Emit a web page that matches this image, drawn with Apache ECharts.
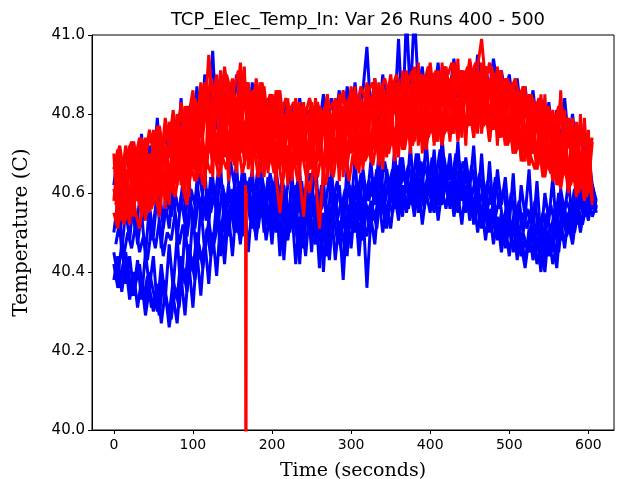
<!DOCTYPE html>
<html>
<head>
<meta charset="utf-8">
<script src="https://cdn.jsdelivr.net/npm/echarts@6/dist/echarts.min.js"></script>
<style>html,body{margin:0;padding:0;background:#fff}#c{width:617px;height:479px}</style>
</head>
<body>
<div id="c"></div>
<script>
const titleText = 'TCP_Elec_Temp_In: Var 26 Runs 400 - 500';
const xTicks = [0, 100, 200, 300, 400, 500, 600];
const yTicks = [40.0, 40.2, 40.4, 40.6, 40.8, 41.0];
const times = [0,5,10,15,20,25,30,35,40,45,50,55,60,65,70,75,80,85,90,95,100,105,110,115,120,125,130,135,140,145,150,155,160,165,170,175,180,185,190,195,200,205,210,215,220,225,230,235,240,245,250,255,260,265,270,275,280,285,290,295,300,305,310,315,320,325,330,335,340,345,350,355,360,365,370,375,380,385,390,395,400,405,410,415,420,425,430,435,440,445,450,455,460,465,470,475,480,485,490,495,500,505,510,515,520,525,530,535,540,545,550,555,560,565,570,575,580,585,590,595,600,605,610];
const timesB = [2.5,7.5,12.5,17.5,22.5,27.5,32.5,37.5,42.5,47.5,52.5,57.5,62.5,67.5,72.5,77.5,82.5,87.5,92.5,97.5,102.5,107.5,112.5,117.5,122.5,127.5,132.5,137.5,142.5,147.5,152.5,157.5,162.5,167.5,172.5,177.5,182.5,187.5,192.5,197.5,202.5,207.5,212.5,217.5,222.5,227.5,232.5,237.5,242.5,247.5,252.5,257.5,262.5,267.5,272.5,277.5,282.5,287.5,292.5,297.5,302.5,307.5,312.5,317.5,322.5,327.5,332.5,337.5,342.5,347.5,352.5,357.5,362.5,367.5,372.5,377.5,382.5,387.5,392.5,397.5,402.5,407.5,412.5,417.5,422.5,427.5,432.5,437.5,442.5,447.5,452.5,457.5,462.5,467.5,472.5,477.5,482.5,487.5,492.5,497.5,502.5,507.5,512.5,517.5,522.5,527.5,532.5,537.5,542.5,547.5,552.5,557.5,562.5,567.5,572.5,577.5,582.5,587.5,592.5,597.5,602.5,607.5];

const blue1 = [40.62,40.70,40.58,40.71,40.64, 40.73,40.60,40.75,40.63,40.72, 40.66,40.79,40.64,40.77,40.69, 40.80,40.67,40.84,40.70,40.82, 40.71,40.87,40.74,40.90,40.80, 40.96,40.76,40.91,40.79,40.88, 40.77,40.90,40.80,40.87,40.75, 40.88,40.78,40.86,40.74,40.84, 40.76,40.85,40.73,40.83,40.77, 40.82,40.74,40.84,40.76,40.81, 40.73,40.83,40.77,40.85,40.75, 40.84,40.78,40.86,40.76,40.87, 40.79,40.88,40.77,40.86,40.97, 40.80,40.89,40.78,40.90,40.82, 40.88,40.80,40.99,40.78,41.05, 40.84,41.06,40.86,40.92,40.83, 40.91,40.85,40.93,40.82,40.90, 40.86,40.94,40.84,40.91,40.87, 40.93,40.85,40.95,40.88,40.92, 40.86,40.94,40.87,40.91,40.85, 40.90,40.82,40.89,40.80,40.87, 40.79,40.86,40.77,40.84,40.75, 40.83,40.74,40.81,40.72,40.84, 40.73,40.80,40.70,40.78,40.69, 40.70,40.62,40.58];
const blue2 = [40.50,40.58,40.45,40.56,40.48, 40.59,40.47,40.55,40.44,40.57, 40.49,40.60,40.46,40.58,40.51, 40.62,40.48,40.59,40.52,40.64, 40.50,40.63,40.55,40.66,40.52, 40.64,40.54,40.67,40.50,40.62, 40.56,40.68,40.52,40.65,40.57, 40.66,40.53,40.69,40.55,40.64, 40.51,40.67,40.56,40.62,40.49, 40.65,40.54,40.66,40.50,40.63, 40.57,40.68,40.52,40.64,40.48, 40.66,40.55,40.62,40.51,40.67, 40.56,40.69,40.53,40.66,40.58, 40.68,40.57,40.70,40.55,40.66, 40.59,40.71,40.56,40.69,40.60, 40.72,40.58,40.70,40.61,40.73, 40.60,40.71,40.57,40.74,40.62, 40.70,40.59,40.73,40.58,40.69, 40.61,40.72,40.57,40.70,40.55, 40.68,40.54,40.66,40.57,40.64, 40.52,40.65,40.49,40.62,40.54, 40.66,40.50,40.63,40.48,40.60, 40.53,40.64,40.49,40.61,40.55, 40.63,40.52,40.62,40.56,40.64, 40.57,40.62,40.56];
const blue3 = [40.38,40.44,40.35,40.42,40.33, 40.40,40.31,40.38,40.29,40.36, 40.30,40.37,40.27,40.35,40.26, 40.34,40.27,40.39,40.29,40.42, 40.31,40.45,40.34,40.48,40.37, 40.50,40.39,40.53,40.42,40.55, 40.44,40.57,40.47,40.59,40.45, 40.58,40.48,40.61,40.50,40.57, 40.47,40.60,40.44,40.58,40.49, 40.56,40.42,40.54,40.46,40.59, 40.45,40.57,40.41,40.55,40.47, 40.56,40.43,40.53,40.38,40.55, 40.46,40.58,40.44,40.56,40.36, 40.54,40.47,40.59,40.50,40.57, 40.51,40.60,40.53,40.62,40.55, 40.61,40.54,40.63,40.52,40.60, 40.55,40.64,40.53,40.61,40.56, 40.63,40.54,40.60,40.52,40.62, 40.53,40.59,40.50,40.57,40.48, 40.56,40.47,40.54,40.45,40.52, 40.44,40.53,40.43,40.50,40.42, 40.51,40.43,40.49,40.40,40.52, 40.44,40.50,40.41,40.53,40.46, 40.55,40.48,40.57,40.50,40.58, 40.53,40.60,40.55];
const blue4 = [40.45,40.39,40.47,40.37,40.44, 40.35,40.43,40.33,40.45,40.36, 40.44,40.31,40.42,40.33,40.47, 40.36,40.49,40.34,40.52,40.40, 40.55,40.42,40.57,40.45,40.53, 40.46,40.58,40.44,40.60,40.49, 40.61,40.50,40.58,40.52,40.63, 40.51,40.62,40.54,40.59,40.52, 40.63,40.53,40.60,40.43,40.57, 40.51,40.62,40.42,40.58,40.52, 40.61,40.49,40.58,40.40,40.56, 40.50,40.60,40.47,40.58,40.44, 40.59,40.50,40.61,40.48,40.57, 40.52,40.62,40.55,40.60,40.53, 40.63,40.56,40.61,40.54,40.64, 40.57,40.65,40.55,40.62,40.58, 40.66,40.57,40.63,40.59,40.65, 40.56,40.64,40.58,40.61,40.55, 40.62,40.52,40.60,40.55,40.58, 40.50,40.57,40.48,40.55,40.46, 40.54,40.45,40.52,40.47,40.41, 40.49,40.44,40.53,40.46,40.40, 40.51,40.45,40.54,40.48,40.56, 40.50,40.58,40.52,40.59,40.54, 40.61,40.56,40.58];
const blue5 = [40.41,40.36,40.43,40.39,40.34, 40.37,40.42,40.33,40.39,40.31, 40.35,40.29,40.38,40.32,40.28, 40.36,40.31,40.41,40.35,40.44, 40.38,40.47,40.41,40.51,40.44, 40.48,40.54,40.46,40.52,40.57, 40.50,40.55,40.49,40.60,40.53, 40.56,40.51,40.59,40.48,40.55, 40.52,40.57,40.46,40.54,40.50, 40.58,40.47,40.53,40.44,40.56, 40.49,40.54,40.46,40.52,40.43, 40.55,40.48,40.52,40.45,40.57, 40.50,40.55,40.48,40.59,40.52, 40.56,40.51,40.61,40.54,40.58, 40.55,40.62,40.57,40.60,40.56, 40.63,40.58,40.61,40.56,40.64, 40.58,40.62,40.57,40.65,40.59, 40.61,40.56,40.63,40.58,40.60, 40.55,40.60,40.53,40.58,40.51, 40.55,40.50,40.53,40.47,40.55, 40.48,40.52,40.45,40.50,40.46, 40.52,40.45,40.48,40.43,40.50, 40.47,40.52,40.45,40.55,40.49, 40.53,40.50,40.56,40.52,40.57, 40.55,40.59];
const blue6 = [40.47,40.53,40.44,40.50,40.46, 40.52,40.45,40.49,40.43,40.51, 40.46,40.53,40.44,40.50,40.48, 40.55,40.47,40.52,40.49,40.57, 40.51,40.59,40.53,40.61,40.55, 40.60,40.53,40.62,40.56,40.59, 40.54,40.63,40.57,40.61,40.55, 40.62,40.56,40.64,40.58,40.60, 40.55,40.62,40.57,40.60,40.52, 40.60,40.55,40.63,40.53,40.59, 40.54,40.61,40.56,40.59,40.51, 40.60,40.53,40.58,40.55,40.62, 40.57,40.63,40.55,40.61,40.58, 40.64,40.59,40.66,40.57,40.63, 40.60,40.67,40.62,40.65,40.59, 40.66,40.61,40.68,40.60,40.65, 40.62,40.67,40.60,40.69,40.63, 40.66,40.60,40.68,40.62,40.65, 40.59,40.64,40.57,40.62,40.56, 40.61,40.54,40.59,40.52,40.58, 40.50,40.57,40.49,40.55,40.51, 40.56,40.48,40.53,40.47,40.55, 40.50,40.56,40.48,40.58,40.52, 40.57,40.54,40.60,40.55,40.59, 40.56,40.60];
const blue7 = [40.42,40.36,40.40,40.45,40.38, 40.34,40.41,40.37,40.32,40.40, 40.35,40.30,40.39,40.34,40.29, 40.38,40.33,40.44,40.37,40.47, 40.40,40.50,40.43,40.47,40.52, 40.45,40.55,40.49,40.57,40.51, 40.58,40.53,40.48,40.56,40.60, 40.54,40.49,40.57,40.53,40.61, 40.56,40.50,40.59,40.54,40.48, 40.57,40.51,40.45,40.55,40.60, 40.52,40.47,40.56,40.50,40.44, 40.53,40.58,40.49,40.42,40.54, 40.51,40.57,40.47,40.53,40.49, 40.58,40.53,40.60,40.56,40.51, 40.58,40.62,40.55,40.59,40.57, 40.60,40.56,40.64,40.58,40.62, 40.59,40.55,40.62,40.57,40.63, 40.58,40.61,40.55,40.63,40.57, 40.60,40.54,40.58,40.51,40.56, 40.52,40.58,40.49,40.53,40.47, 40.51,40.46,40.49,40.44,40.48, 40.45,40.50,40.42,40.47,40.43, 40.49,40.42,40.47,40.51,40.48, 40.52,40.47,40.55,40.51,40.56, 40.58,40.54,40.57];
const blue8 = [40.55,40.49,40.60,40.52,40.57, 40.50,40.58,40.53,40.61,40.48, 40.56,40.62,40.51,40.59,40.54, 40.60,40.55,40.63,40.50,40.61, 40.57,40.65,40.59,40.53,40.64, 40.58,40.66,40.61,40.56,40.68, 40.62,40.55,40.66,40.60,40.64, 40.58,40.67,40.61,40.56,40.65, 40.60,40.54,40.64,40.58,40.66, 40.57,40.63,40.52,40.61,40.65, 40.59,40.53,40.62,40.57,40.64, 40.58,40.63,40.56,40.61,40.53, 40.62,40.58,40.65,40.60,40.63, 40.59,40.66,40.61,40.68,40.62, 40.66,40.60,40.69,40.63,40.67, 40.62,40.70,40.65,40.68,40.63, 40.69,40.64,40.71,40.62,40.67, 40.63,40.70,40.65,40.68,40.61, 40.67,40.60,40.65,40.58,40.63, 40.57,40.64,40.56,40.61,40.54, 40.60,40.53,40.58,40.50,40.56, 40.52,40.58,40.49,40.55,40.51, 40.57,40.52,40.60,40.54,40.58, 40.55,40.61,40.57,40.62,40.58, 40.61,40.57];

const red1 = [40.66,40.71,40.64,40.72,40.67, 40.73,40.66,40.74,40.69,40.76, 40.70,40.77,40.68,40.79,40.72, 40.81,40.73,40.83,40.75,40.80, 40.86,40.76,40.88,40.79,40.95, 40.82,40.90,40.78,40.92,40.84, 40.89,40.80,40.93,40.83,40.88, 40.79,40.89,40.82,40.87,40.77, 40.85,40.78,40.86,40.76,40.83, 40.77,40.84,40.75,40.82,40.78, 40.83,40.76,40.82,40.79,40.85, 40.77,40.84,40.79,40.86,40.78, 40.87,40.80,40.85,40.79,40.88, 40.81,40.89,40.80,40.87,40.83, 40.90,40.82,40.88,40.84,40.91, 40.85,40.92,40.83,40.90,40.86, 40.93,40.84,40.91,40.87,40.92, 40.85,40.93,40.88,40.91,40.86, 40.94,40.87,40.92,40.99,40.88, 40.93,40.85,40.91,40.86,40.89, 40.84,40.88,40.80,40.86,40.79, 40.85,40.77,40.83,40.76,40.82, 40.74,40.81,40.73,40.84,40.75, 40.79,40.71,40.78,40.72,40.76, 40.70,40.74];
const red2 = [40.55,40.51,40.58,40.53,40.60, 40.56,40.62,40.54,40.60,40.57, 40.63,40.57,40.65,40.59,40.66, 40.61,40.68,40.63,40.70,40.62, 40.69,40.64,40.72,40.66,40.74, 40.68,40.75,40.65,40.77,40.70, 40.74,40.66,40.76,40.69,40.73, 40.67,40.75,40.65,40.73,40.66, 40.71,40.64,40.55,40.66,40.72, 40.65,40.73,40.64,40.54,40.68, 40.72,40.64,40.51,40.66,40.73, 40.65,40.74,40.66,40.72,40.67, 40.75,40.68,40.76,40.67,40.74, 40.69,40.77,40.68,40.78,40.70, 40.79,40.70,40.77,40.71,40.80, 40.72,40.81,40.73,40.79,40.71, 40.80,40.73,40.82,40.72,40.79, 40.74,40.83,40.73,40.81,40.75, 40.82,40.74,40.84,40.76,40.81, 40.73,40.82,40.75,40.80,40.72, 40.78,40.70,40.77,40.69,40.75, 40.67,40.74,40.66,40.72,40.64, 40.71,40.63,40.69,40.61,40.68, 40.60,40.67,40.59,40.66,40.58, 40.65,40.57];
const red3 = [40.70,40.52,40.68,40.55,40.72, 40.54,40.71,40.57,40.74,40.55, 40.76,40.58,40.74,40.56,40.78, 40.60,40.80,40.62,40.82,40.59, 40.84,40.63,40.87,40.61,40.85, 40.64,40.89,40.66,40.86,40.63, 40.88,40.65,40.90,40.67,40.86, 40.64,40.87,40.66,40.84,40.65, 40.85,40.63,40.82,40.64,40.84, 40.63,40.81,40.65,40.83,40.64, 40.82,40.64,40.80,40.63,40.83, 40.65,40.84,40.63,40.82,40.66, 40.85,40.67,40.83,40.66,40.86, 40.68,40.87,40.67,40.85,40.69, 40.89,40.68,40.87,40.71,40.90, 40.70,40.91,40.72,40.89,40.71, 40.92,40.72,40.90,40.73,40.91, 40.73,40.92,40.74,40.90,40.72, 40.93,40.74,40.91,40.75,40.92, 40.73,40.90,40.72,40.91,40.74, 40.88,40.70,40.86,40.68,40.87, 40.67,40.84,40.66,40.85,40.65, 40.82,40.63,40.80,40.64,40.81, 40.61,40.79,40.60,40.80,40.59, 40.76,40.58];
const red4 = [40.58,40.69,40.53,40.66,40.57, 40.72,40.58,40.68,40.53,40.70, 40.59,40.75,40.61,40.72,40.57, 40.78,40.64,40.76,40.60,40.81, 40.66,40.83,40.64,40.88,40.70, 40.86,40.67,40.91,40.69,40.88, 40.68,40.84,40.70,40.92,40.66, 40.85,40.70,40.88,40.64,40.82, 40.68,40.86,40.66,40.80,40.62, 40.79,40.67,40.83,40.69,40.80, 40.66,40.84,40.70,40.81,40.64, 40.80,40.68,40.85,40.64,40.82, 40.70,40.87,40.65,40.83,40.69, 40.84,40.71,40.88,40.66,40.86, 40.72,40.88,40.69,40.91,40.74, 40.86,40.73,40.93,40.70,40.88, 40.75,40.90,40.73,40.93,40.76, 40.89,40.75,40.94,40.74,40.90, 40.77,40.91,40.75,40.93,40.78, 40.89,40.76,40.92,40.74,40.87, 40.73,40.87,40.71,40.84,40.68, 40.83,40.70,40.81,40.67,40.85, 40.66,40.80,40.62,40.86,40.65, 40.78,40.63,40.77,40.61,40.79, 40.62,40.73];
const red5 = [40.63,40.59,40.68,40.62,40.70, 40.60,40.66,40.71,40.58,40.64, 40.69,40.61,40.73,40.66,40.62, 40.74,40.68,40.63,40.77,40.70, 40.79,40.67,40.75,40.83,40.72, 40.78,40.85,40.70,40.81,40.76, 40.84,40.73,40.79,40.87,40.71, 40.80,40.75,40.83,40.70,40.78, 40.73,40.81,40.69,40.77,40.82, 40.71,40.76,40.80,40.68,40.74, 40.79,40.70,40.75,40.81,40.72, 40.77,40.83,40.71,40.79,40.74, 40.81,40.75,40.84,40.72,40.78, 40.85,40.74,40.80,40.86,40.76, 40.82,40.88,40.77,40.84,40.79, 40.87,40.80,40.85,40.76,40.89, 40.81,40.86,40.78,40.90,40.83, 40.88,40.79,40.85,40.91,40.80, 40.86,40.82,40.90,40.78,40.87, 40.83,40.89,40.79,40.85,40.81, 40.86,40.77,40.83,40.79,40.74, 40.81,40.75,40.78,40.71,40.80, 40.73,40.77,40.69,40.76,40.71, 40.74,40.67,40.72,40.65,40.70, 40.66];
const red6 = [40.54,40.60,40.52,40.57,40.63, 40.55,40.51,40.59,40.62,40.56, 40.60,40.54,40.64,40.58,40.62, 40.59,40.66,40.61,40.57,40.67, 40.63,40.70,40.62,40.68,40.65, 40.71,40.64,40.69,40.66,40.73, 40.67,40.72,40.65,40.70,40.68, 40.72,40.64,40.69,40.66,40.71, 40.65,40.70,40.62,40.68,40.66, 40.69,40.63,40.71,40.65,40.60, 40.67,40.64,40.70,40.62,40.68, 40.64,40.71,40.66,40.69,40.63, 40.70,40.66,40.73,40.68,40.71, 40.67,40.74,40.69,40.72,40.70, 40.75,40.70,40.73,40.71,40.77, 40.72,40.76,40.73,40.79,40.74, 40.78,40.73,40.80,40.75,40.77, 40.75,40.81,40.76,40.79,40.77, 40.80,40.76,40.82,40.77,40.79, 40.76,40.80,40.74,40.78,40.72, 40.75,40.70,40.73,40.68,40.71, 40.69,40.66,40.72,40.64,40.68, 40.65,40.70,40.62,40.67,40.64, 40.62,40.66,40.60,40.64,40.59, 40.63];
const red7 = [40.68,40.72,40.65,40.70,40.73, 40.69,40.74,40.67,40.72,40.75, 40.73,40.77,40.71,40.76,40.78, 40.75,40.80,40.77,40.82,40.78, 40.84,40.80,40.87,40.82,40.89, 40.85,40.88,40.83,40.90,40.86, 40.87,40.91,40.84,40.88,40.85, 40.86,40.83,40.88,40.81,40.85, 40.82,40.86,40.80,40.84,40.81, 40.83,40.79,40.82,40.80,40.84, 40.80,40.83,40.78,40.82,40.81, 40.83,40.80,40.85,40.82,40.84, 40.86,40.82,40.87,40.84,40.86, 40.88,40.84,40.86,40.89,40.85, 40.87,40.90,40.86,40.89,40.88, 40.91,40.87,40.90,40.88,40.92, 40.89,40.91,40.87,40.92,40.90, 40.93,40.88,40.91,40.89,40.92, 40.90,40.93,40.89,40.92,40.91, 40.92,40.88,40.91,40.87,40.89, 40.86,40.89,40.84,40.87,40.82, 40.85,40.81,40.84,40.79,40.82, 40.80,40.78,40.82,40.76,40.79, 40.77,40.74,40.76,40.72,40.75, 40.73];
const red8 = [40.61,40.56,40.66,40.60,40.52, 40.64,40.59,40.55,40.68,40.62, 40.57,40.70,40.63,40.60,40.74, 40.66,40.62,40.77,40.70,40.65, 40.80,40.72,40.68,40.83,40.75, 40.70,40.86,40.77,40.73,40.88, 40.78,40.71,40.85,40.75,40.82, 40.72,40.84,40.76,40.69,40.81, 40.75,40.70,40.83,40.73,40.68, 40.80,40.71,40.76,40.82,40.69, 40.74,40.79,40.68,40.77,40.72, 40.69,40.81,40.75,40.71,40.83, 40.76,40.72,40.84,40.78,40.70, 40.82,40.76,40.72,40.86,40.79, 40.74,40.84,40.78,40.88,40.76, 40.82,40.89,40.77,40.85,40.80, 40.76,40.87,40.81,40.90,40.78, 40.84,40.79,40.90,40.82,40.77, 40.87,40.80,40.91,40.83,40.78, 40.88,40.81,40.77,40.89,40.80, 40.76,40.85,40.79,40.73,40.83, 40.78,40.70,40.81,40.74,40.69, 40.77,40.71,40.66,40.75,40.69, 40.65,40.74,40.68,40.63,40.71, 40.66,40.61];
const red9 = [40.57,40.66,40.61,40.54,40.64, 40.67,40.61,40.57,40.70,40.63, 40.66,40.72,40.60,40.69,40.64, 40.71,40.65,40.79,40.68,40.74, 40.70,40.78,40.73,40.66,40.80, 40.74,40.69,40.82,40.77,40.71, 40.79,40.83,40.74,40.70,40.81, 40.76,40.70,40.79,40.73,40.68, 40.78,40.74,40.67,40.80,40.71, 40.75,40.69,40.78,40.72,40.66, 40.73,40.78,40.70,40.67,40.77, 40.72,40.68,40.79,40.74,40.70, 40.78,40.73,40.69,40.81,40.75, 40.71,40.79,40.83,40.74,40.80, 40.77,40.73,40.85,40.79,40.75, 40.83,40.78,40.74,40.86,40.80, 40.85,40.77,40.82,40.76,40.87, 40.79,40.84,40.77,40.86,40.82, 40.78,40.88,40.81,40.85,40.77, 40.84,40.78,40.86,40.80,40.76, 40.82,40.74,40.80,40.76,40.71, 40.77,40.72,40.68,40.79,40.73, 40.69,40.74,40.67,40.72,40.65, 40.70,40.64,40.68,40.62,40.67, 40.62];
const spikeTimes = [166.5, 167, 167.5];
const spikeValues = [40.62, 39.5, 40.60];

function pairs(ts, vs) { return vs.map((v, i) => [ts[i], v]); }
function line(data, color) {
  return { type: 'line', data: data, showSymbol: false, symbol: 'none', clip: true,
    lineStyle: { color: color, width: 3 }, itemStyle: { color: color },
    emphasis: { disabled: true }, silent: true, animation: false };
}
const chart = echarts.init(document.getElementById('c'), null, { renderer: 'canvas' });
chart.setOption({
  animation: false,
  backgroundColor: '#fff',
  title: { text: titleText, left: 353, top: 6, textAlign: 'center',
    textStyle: { fontFamily: 'DejaVu Sans', fontSize: 18, fontWeight: 'normal', color: '#000' } },
  grid: { left: 92, right: 3, top: 35, bottom: 49, show: true, borderColor: '#000', borderWidth: 1,
    containLabel: false, outerBoundsMode: 'none' },
  xAxis: { type: 'value', min: -27.6, max: 632.4,
    axisLine: { show: true, onZero: false, lineStyle: { color: '#000', width: 1 } },
    axisTick: { show: true, customValues: xTicks, length: 4, lineStyle: { color: '#000' } },
    axisLabel: { customValues: xTicks, margin: 8, fontFamily: 'DejaVu Sans', fontSize: 14, color: '#000' },
    splitLine: { show: false },
    name: 'Time (seconds)', nameLocation: 'middle', nameGap: 32,
    nameTextStyle: { fontFamily: 'DejaVu Serif', fontSize: 19, color: '#000' } },
  yAxis: { type: 'value', min: 40, max: 41, interval: 0.2,
    axisLine: { show: true, onZero: false, lineStyle: { color: '#000', width: 1 } },
    axisTick: { show: true, length: 4, lineStyle: { color: '#000' } },
    axisLabel: { margin: 7, fontFamily: 'DejaVu Sans', fontSize: 15, color: '#000', formatter: v => v.toFixed(1) },
    splitLine: { show: false },
    name: 'Temperature (C)', nameLocation: 'middle', nameGap: 60, nameRotate: 90,
    nameTextStyle: { fontFamily: 'DejaVu Serif', fontSize: 20, color: '#000' } },
  series: [
    line(pairs(times, blue1), '#0000ff'),
    line(pairs(times, blue2), '#0000ff'),
    line(pairs(times, blue3), '#0000ff'),
    line(pairs(times, blue4), '#0000ff'),
    line(pairs(timesB, blue5), '#0000ff'),
    line(pairs(timesB, blue6), '#0000ff'),
    line(pairs(times, blue7), '#0000ff'),
    line(pairs(timesB, blue8), '#0000ff'),
    line(pairs(times, red1), '#ff0000'),
    line(pairs(times, red2), '#ff0000'),
    line(pairs(times, red3), '#ff0000'),
    line(pairs(times, red4), '#ff0000'),
    line(pairs(timesB, red5), '#ff0000'),
    line(pairs(timesB, red6), '#ff0000'),
    line(pairs(timesB, red7), '#ff0000'),
    line(pairs(times, red8), '#ff0000'),
    line(pairs(timesB, red9), '#ff0000'),
    line(pairs(spikeTimes, spikeValues), '#ff0000')
  ]
});
</script>
</body>
</html>
